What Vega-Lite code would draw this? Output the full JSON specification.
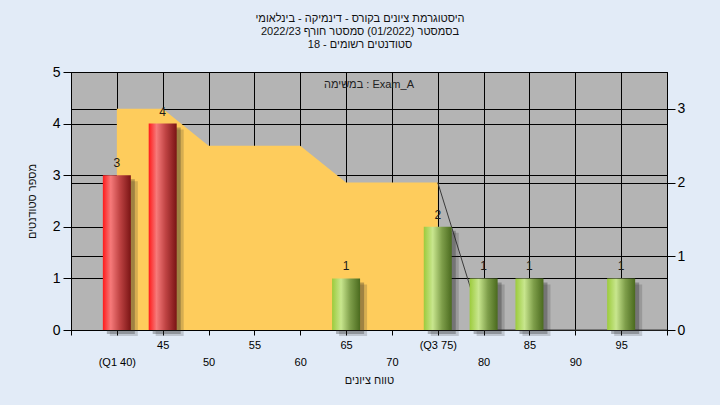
{
  "$schema": "https://vega.github.io/schema/vega-lite/v6.json",
  "width": 596,
  "height": 258,
  "autosize": "none",
  "padding": {"left": 71, "top": 72, "right": 53, "bottom": 75},
  "background": "#E2EBF7",
  "title": {
    "text": ["היסטוגרמת ציונים בקורס - דינמיקה - בינלאומי", "בסמסטר  (01/2022)  סמסטר חורף 2022/23", "18 - סטודנטים רשומים"],
    "font": "Liberation Sans",
    "fontSize": 11,
    "fontWeight": "normal",
    "lineHeight": 13,
    "color": "#111111",
    "offset": 15,
    "dx": -9,
    "anchor": "middle"
  },
  "config": {
    "font": "Liberation Sans",
    "view": {"fill": "#B4B4B4", "stroke": "#000000", "strokeWidth": 1},
    "axis": {
      "gridColor": "#000000",
      "gridOpacity": 1,
      "gridWidth": 1,
      "domainColor": "#000000",
      "tickColor": "#000000",
      "labelColor": "#000000",
      "titleColor": "#111111",
      "titleFont": "Liberation Sans",
      "labelFont": "Liberation Sans",
      "titleFontWeight": "normal",
      "titleFontSize": 11
    }
  },
  "datasets": {
    "bars": [
      {"grade": 40, "count": 3, "group": "low"},
      {"grade": 45, "count": 4, "group": "low"},
      {"grade": 65, "count": 1, "group": "high"},
      {"grade": 75, "count": 2, "group": "high"},
      {"grade": 80, "count": 1, "group": "high"},
      {"grade": 85, "count": 1, "group": "high"},
      {"grade": 95, "count": 1, "group": "high"}
    ],
    "curve": [
      {"grade": 40, "value": 3},
      {"grade": 45, "value": 3},
      {"grade": 50, "value": 2.5},
      {"grade": 60, "value": 2.5},
      {"grade": 65, "value": 2},
      {"grade": 75, "value": 2}
    ],
    "tail": [
      {"grade": 75, "value": 2},
      {"grade": 80, "value": 0},
      {"grade": 100, "value": 0}
    ],
    "note": [
      {"grade": 67.5, "count": 4.75, "label": "\u200Eבמשימה : Exam_A"}
    ]
  },
  "layer": [
    {
      "layer": [
        {
          "data": {"name": "curve"},
          "mark": {"type": "area", "color": "#FECC5C", "opacity": 1, "interpolate": "linear"},
          "encoding": {
            "x": {"field": "grade", "type": "quantitative"},
            "y": {"field": "value", "type": "quantitative"}
          }
        },
        {
          "data": {"name": "tail"},
          "mark": {"type": "line", "color": "#3A3A3A", "strokeWidth": 1},
          "encoding": {
            "x": {"field": "grade", "type": "quantitative"},
            "y": {"field": "value", "type": "quantitative"}
          }
        }
      ],
      "encoding": {
        "x": {
          "field": "grade",
          "type": "quantitative",
          "scale": {"domain": [35, 100], "nice": false, "zero": false, "padding": 0},
          "axis": {
            "values": [35, 40, 45, 50, 55, 60, 65, 70, 75, 80, 85, 90, 95, 100],
            "grid": true,
            "title": "טווח ציונים",
            "titlePadding": 7,
            "labelFontSize": 11,
            "labelLineHeight": 17,
            "tickSize": 5,
            "labelPadding": 4,
            "labelExpr": "datum.value == 40 ? ['', '(Q1 40)'] : datum.value == 75 ? '(Q3 75)' : (datum.value == 35 || datum.value == 100) ? '' : (datum.value % 10 == 0 ? ['', datum.label] : datum.label)"
          }
        },
        "y": {
          "field": "value",
          "type": "quantitative",
          "scale": {"domain": [0, 3.5], "nice": false},
          "axis": {
            "orient": "right",
            "values": [0, 1, 2, 3],
            "grid": true,
            "title": null,
            "labelFontSize": 14,
            "tickSize": 8,
            "labelPadding": 2
          }
        }
      }
    },
    {
      "data": {"name": "bars"},
      "layer": [
        {
          "mark": {"type": "bar", "size": 28, "color": "#202020", "opacity": 0.18, "xOffset": 7, "yOffset": 6}
        },
        {
          "mark": {"type": "bar", "size": 28, "color": "#202020", "opacity": 0.3, "xOffset": 4, "yOffset": 4}
        },
        {
          "transform": [{"filter": "datum.group == 'low'"}],
          "mark": {
            "type": "bar",
            "size": 28,
            "color": {
              "gradient": "linear", "x1": 0, "x2": 1, "y1": 0, "y2": 0,
              "stops": [
                {"offset": 0, "color": "#FF1A1A"},
                {"offset": 0.28, "color": "#F67A7A"},
                {"offset": 0.6, "color": "#C04444"},
                {"offset": 1, "color": "#7A1414"}
              ]
            }
          }
        },
        {
          "transform": [{"filter": "datum.group == 'high'"}],
          "mark": {
            "type": "bar",
            "size": 28,
            "color": {
              "gradient": "linear", "x1": 0, "x2": 1, "y1": 0, "y2": 0,
              "stops": [
                {"offset": 0, "color": "#9CCB3C"},
                {"offset": 0.32, "color": "#C8E68E"},
                {"offset": 0.65, "color": "#7E9E4A"},
                {"offset": 1, "color": "#4A6A1E"}
              ]
            }
          }
        },
        {
          "mark": {"type": "text", "baseline": "bottom", "dy": -5, "fontSize": 12, "color": "#1A1A1A"},
          "encoding": {"text": {"field": "count", "type": "quantitative"}}
        },
        {
          "data": {"name": "note"},
          "mark": {"type": "text", "baseline": "middle", "align": "center", "fontSize": 11, "color": "#222222"},
          "encoding": {"text": {"field": "label", "type": "nominal"}}
        }
      ],
      "encoding": {
        "x": {"field": "grade", "type": "quantitative", "scale": {"domain": [35, 100], "nice": false, "zero": false, "padding": 0}},
        "y": {
          "field": "count",
          "type": "quantitative",
          "scale": {"domain": [0, 5], "nice": false},
          "axis": {
            "orient": "left",
            "values": [0, 1, 2, 3, 4, 5],
            "grid": true,
            "title": "מספר סטודנטים",
            "titlePadding": 15,
            "labelFontSize": 14,
            "tickSize": 8,
            "labelPadding": 3
          }
        }
      }
    }
  ],
  "resolve": {"scale": {"y": "independent"}, "axis": {"y": "independent"}}
}
